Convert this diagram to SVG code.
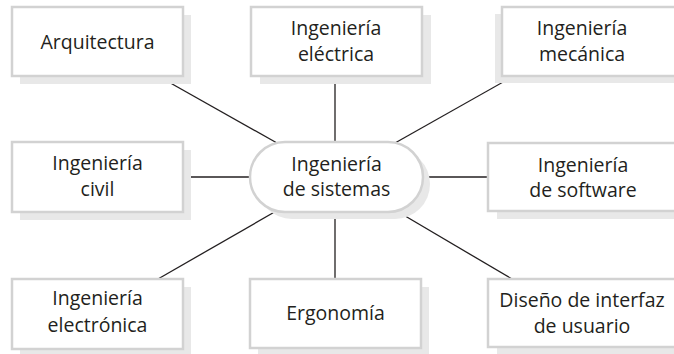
<svg xmlns="http://www.w3.org/2000/svg" width="674" height="354" viewBox="0 0 674 354">
<style>
.sh{fill:#e8e8e8}
.bx{fill:#fff;stroke:#d2d2d2;stroke-width:2.5}
.t{font-family:"Open Sans","Noto Sans",sans-serif;font-size:19.5px;fill:#231f20;text-anchor:middle}
.c line{stroke:#231f20;stroke-width:1.3}
</style>
<rect width="674" height="354" fill="#fff"/>
<g class="c" id="connectors">
<line x1="158" y1="76" x2="277" y2="143"/>
<line x1="335" y1="76" x2="335" y2="142"/>
<line x1="512" y1="77" x2="395" y2="143"/>
<line x1="183" y1="177" x2="250" y2="177"/>
<line x1="423" y1="177" x2="488" y2="177"/>
<line x1="158" y1="279" x2="278" y2="210"/>
<line x1="335" y1="212" x2="335" y2="279"/>
<line x1="395" y1="210" x2="512" y2="279"/>
</g>
<g id="arquitectura">
<rect class="sh" x="20" y="15" width="171" height="69"/>
<rect class="bx" x="12" y="7" width="171" height="69"/>
<text class="t" x="97.5" y="49">Arquitectura</text>
</g>
<g id="electrica">
<rect class="sh" x="260" y="15" width="171" height="69"/>
<rect class="bx" x="251" y="7" width="171" height="69"/>
<text class="t" x="336" y="35">Ingeniería</text>
<text class="t" x="336" y="61">eléctrica</text>
</g>
<g id="mecanica">
<rect class="sh" x="495" y="14" width="190" height="69"/>
<rect class="bx" x="502" y="7" width="190" height="69"/>
<text class="t" x="582" y="35">Ingeniería</text>
<text class="t" x="582" y="61">mecánica</text>
</g>
<g id="civil">
<rect class="sh" x="20" y="150" width="171" height="70"/>
<rect class="bx" x="12" y="142" width="171" height="70"/>
<text class="t" x="97.5" y="170">Ingeniería</text>
<text class="t" x="97.5" y="196">civil</text>
</g>
<g id="sistemas">
<rect class="sh" x="257" y="149" width="173" height="70" rx="35"/>
<rect class="bx" x="250" y="142" width="173" height="70" rx="35"/>
<text class="t" x="336.5" y="171">Ingeniería</text>
<text class="t" x="336.5" y="196">de sistemas</text>
</g>
<g id="software">
<rect class="sh" x="497" y="151" width="200" height="68"/>
<rect class="bx" x="488" y="143" width="200" height="68"/>
<text class="t" x="583" y="172">Ingeniería</text>
<text class="t" x="583" y="197">de software</text>
</g>
<g id="electronica">
<rect class="sh" x="20" y="287" width="171" height="70"/>
<rect class="bx" x="12" y="279" width="171" height="70"/>
<text class="t" x="97.5" y="305">Ingeniería</text>
<text class="t" x="97.5" y="332">electrónica</text>
</g>
<g id="ergonomia">
<rect class="sh" x="258" y="287" width="171" height="69"/>
<rect class="bx" x="250" y="279" width="171" height="69"/>
<text class="t" x="335.5" y="320">Ergonomía</text>
</g>
<g id="diseno">
<rect class="sh" x="497" y="287" width="200" height="68"/>
<rect class="bx" x="488" y="279" width="200" height="68"/>
<text class="t" x="582" y="307">Diseño de interfaz</text>
<text class="t" x="582" y="333">de usuario</text>
</g>
</svg>
